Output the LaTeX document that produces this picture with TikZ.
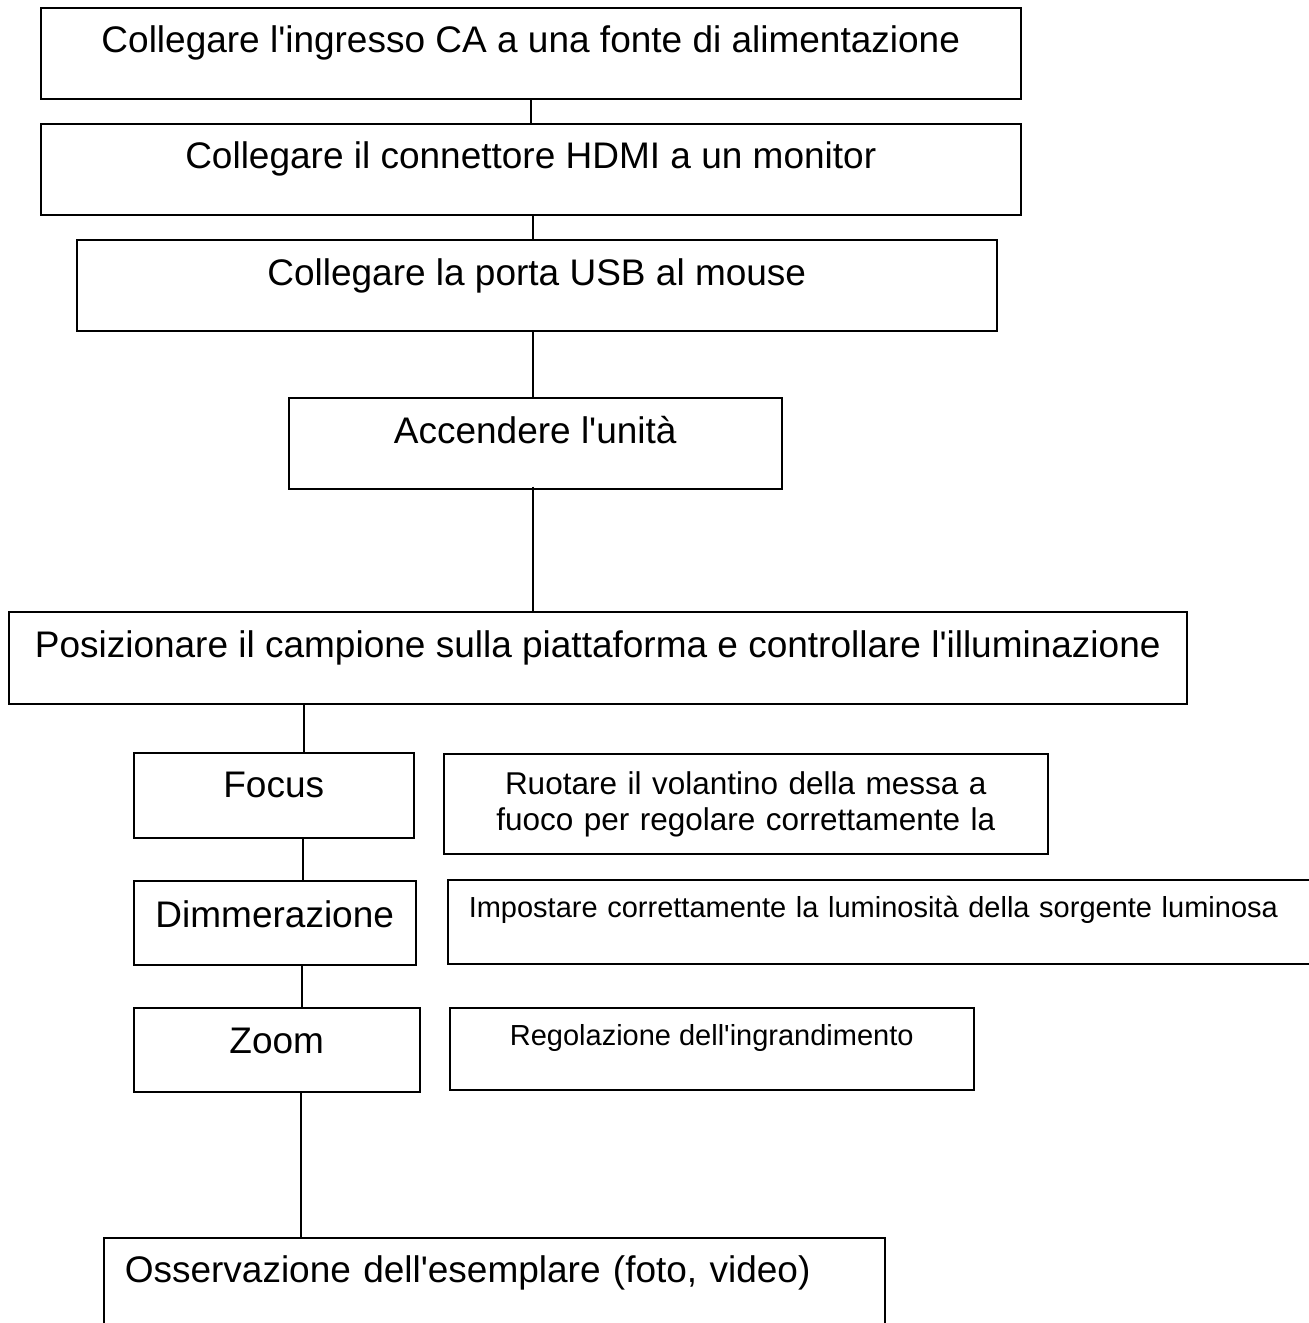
\documentclass[tikz,border=0pt]{standalone}
\usepackage{fontspec}
\setmainfont{Liberation Sans}
\newcommand{\aq}{\textquotesingle}
\begin{document}
\begin{tikzpicture}[x=1pt,y=-1pt,
  box/.style={draw, line width=1.5pt, inner xsep=0pt, inner ysep=0pt, align=center, anchor=north west},
  big/.style={font=\fontsize{37pt}{44pt}\selectfont},
  mid/.style={font=\fontsize{31.5pt}{36pt}\selectfont},
  small/.style={font=\fontsize{29pt}{34pt}\selectfont},
  link/.style={line width=1.1pt}]
\useasboundingbox (0,0) rectangle (1309,1323);
\clip (0,0) rectangle (1309,1323);
% main column
\node[box, big, minimum width=980pt, text height=45pt, text depth=46pt] (b1) at (40,7)
  {Collegare l\aq ingresso CA a una fonte di alimentazione};
\node[box, big, minimum width=980pt, text height=45pt, text depth=46pt] (b2) at (40,123)
  {Collegare il connettore HDMI a un monitor};
\node[box, big, minimum width=920pt, text height=46pt, text depth=45pt] (b3) at (76,239)
  {Collegare la porta USB al mouse};
\node[box, big, minimum width=493pt, text height=46pt, text depth=45pt] (b4) at (288,397)
  {Accendere l\aq unità};
\node[box, big, minimum width=1178pt, text height=46pt, text depth=46pt] (b5) at (8,611)
  {Posizionare il campione sulla piattaforma e controllare l\aq illuminazione};
% left column
\node[box, big, minimum width=280pt, text height=45pt, text depth=40pt] (focus) at (133,752) {Focus};
\node[box, big, minimum width=282pt, text height=47pt, text depth=37pt] (dim) at (133,880) {Dimmerazione};
\node[box, big, minimum width=286pt, text height=46pt, text depth=38pt] (zoomb) at (133,1007) {Zoom};
% right column
\node[box, mid, text width=560pt, inner xsep=22pt, text height=41pt, text depth=59pt] (rot) at (443,753)
  {Ruotare il volantino della messa a\\fuoco per regolare correttamente la};
\node[box, small, text width=931pt, inner xsep=21pt, align=left, text height=38pt, text depth=46pt] (imp) at (447,879)
  {Impostare correttamente la luminosità della sorgente luminosa};
\node[box, small, minimum width=524pt, text height=38pt, text depth=44pt] (reg) at (449,1007)
  {Regolazione dell\aq ingrandimento};
% final
\node[box, big, text width=739pt, inner xsep=21pt, align=left, text height=45pt, text depth=50pt] (obs) at (103,1237)
  {Osservazione dell\aq esemplare (foto, video)};
% connector columns
\coordinate (cA) at (531,0);
\coordinate (cB) at (533,0);
\coordinate (cC) at (304,0);
\coordinate (cD) at (303,0);
\coordinate (cE) at (302,0);
\coordinate (cF) at (301,0);
\draw[link] (b1.south -| cA) -- (b2.north -| cA);
\draw[link] (b2.south -| cB) -- (b3.north -| cB);
\draw[link] (b3.south -| cB) -- (b4.north -| cB);
\draw[link] ([yshift=3pt]b4.south -| cB) -- (b5.north -| cB);
\draw[link] (b5.south -| cC) -- (focus.north -| cC);
\draw[link] (focus.south -| cD) -- (dim.north -| cD);
\draw[link] (dim.south -| cE) -- (zoomb.north -| cE);
\draw[link] (zoomb.south -| cF) -- (obs.north -| cF);
\end{tikzpicture}
\end{document}
